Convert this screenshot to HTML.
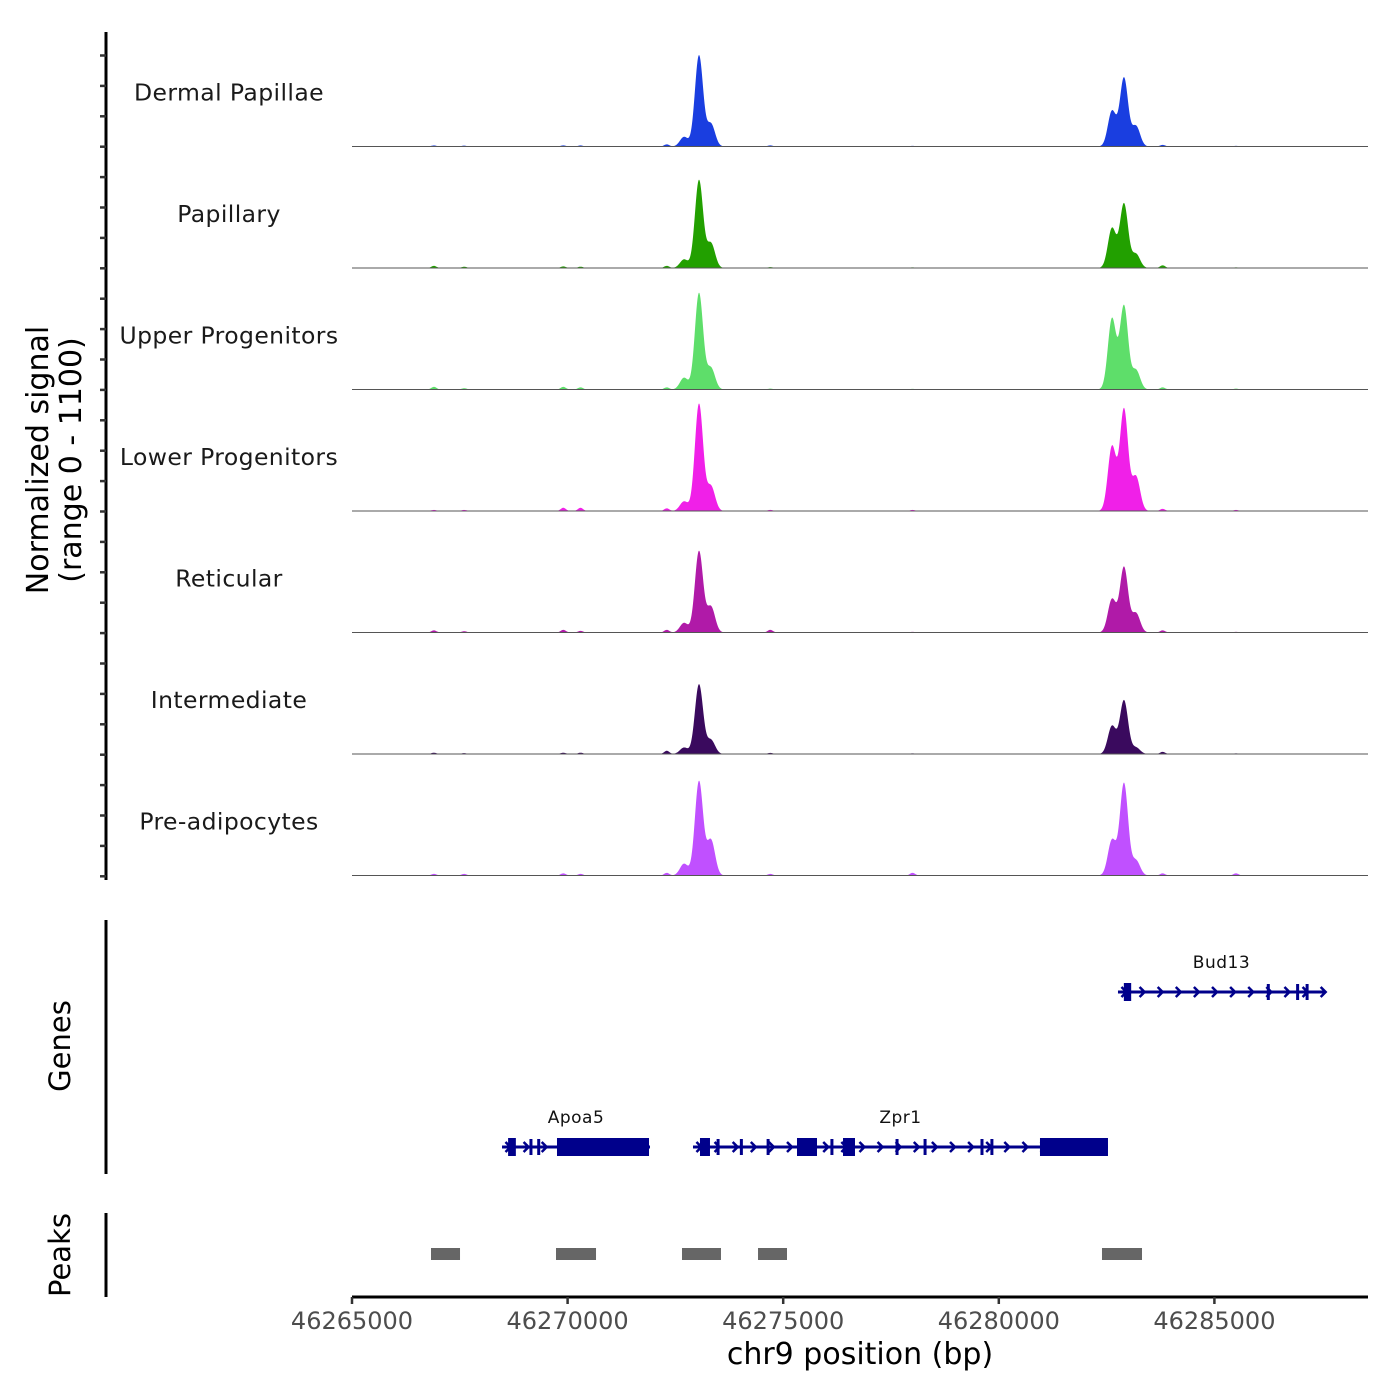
<!DOCTYPE html>
<html><head><meta charset="utf-8">
<style>
html,body{margin:0;padding:0;background:#fff;}
svg{display:block;font-family:"DejaVu Sans","Liberation Sans",sans-serif;}
</style></head>
<body>
<svg id="chart" width="1400" height="1400" viewBox="0 0 1400 1400"></svg>
<script>
const trackNames = ["Dermal Papillae","Papillary","Upper Progenitors","Lower Progenitors","Reticular","Intermediate","Pre-adipocytes"];
const trackColors = ["#1a3ee0","#22a000","#5ede6a","#f020e8","#b01aa8","#3a0a5e","#c050ff"];
const peakPositions = [46272700, 46273047, 46273325, 46282625, 46282903, 46283182];
const peakValues = [
  [90, 850, 210, 330, 640, 190],
  [80, 820, 230, 370, 600, 130],
  [110, 900, 200, 660, 780, 180],
  [90, 1000, 230, 600, 950, 320],
  [90, 760, 240, 310, 610, 180],
  [60, 650, 130, 260, 500, 60],
  [110, 880, 330, 330, 860, 140]
];
const bumpPositions = [46266900, 46267600, 46269900, 46270300, 46272300, 46274700, 46278000, 46283800, 46285500];
const bumpValues = [
  [10, 8, 10, 10, 20, 10, 6, 15, 6],
  [20, 12, 15, 12, 20, 8, 6, 25, 6],
  [25, 12, 25, 20, 20, 8, 6, 20, 8],
  [10, 10, 30, 30, 25, 10, 10, 20, 10],
  [20, 12, 25, 15, 25, 25, 6, 20, 6],
  [12, 8, 12, 12, 30, 10, 6, 20, 6],
  [15, 15, 20, 15, 25, 15, 25, 20, 20]
];
const xTicks = [46265000, 46270000, 46275000, 46280000, 46285000];
const genes = [
  {name:"Apoa5", start:46268479, end:46271911, row:1,
   blocks:[[46269754,46271888],[46268620,46268800]],
   exons:[46269150,46269330]},
  {name:"Zpr1", start:46272908, end:46282532, row:1,
   blocks:[[46280955,46282532],[46275320,46275784],[46276387,46276665],[46273070,46273302]],
   exons:[46273490,46274030,46274650,46276130,46277640,46278290,46279610,46279840]},
  {name:"Bud13", start:46282764, end:46287565, row:0,
   blocks:[[46282900,46283070]],
   exons:[46286250,46286930,46287150]}
];
const peakStarts = [46266832, 46269731, 46272653, 46274416, 46282393];
const peakEnds = [46267505, 46270659, 46273557, 46275088, 46283321];

const NS="http://www.w3.org/2000/svg";
const svg=document.getElementById("chart");
const X0=46265000, PX0=352, K=0.04312, XR=1368;
function xs(bp){return PX0+(bp-X0)*K;}
function mk(tag,attrs,parent){const e=document.createElementNS(NS,tag);for(const k in attrs)e.setAttribute(k,attrs[k]);(parent||svg).appendChild(e);return e;}

const TH=121.5, TOP=25;
function ys(v,i){const base=TOP+(i+1)*TH;return base - v/1100*118;}

let ax=mk("line",{x1:106,y1:32,x2:106,y2:880,stroke:"#000","stroke-width":3});


for(let y=55.5;y<=880;y+=30.4){
  let t=mk("line",{x1:100,y1:y,x2:106,y2:y,stroke:"#333","stroke-width":2.5});
  
  
}
let yt=mk("text",{x:0,y:0,"font-size":30,"text-anchor":"middle",transform:"translate(52,460) rotate(-90)"});


let ts1=mk("tspan",{x:0,dy:-4},yt);ts1.textContent="Normalized signal";
let ts2=mk("tspan",{x:0,dy:33},yt);ts2.textContent="(range 0 - 1100)";

const SIG=95, BS=60;
trackNames.forEach((nm,i)=>{
  const g=mk("g",{});
  
  
  const base=TOP+(i+1)*TH;
  let d="M"+PX0+","+base;
  for(let px=PX0;px<=XR;px+=0.5){
    const bp=X0+(px-PX0)/K;
    let v=0;
    peakPositions.forEach((p,j)=>{const z=(bp-p)/SIG;v+=peakValues[i][j]*Math.exp(-0.5*z*z);});
    bumpPositions.forEach((p,j)=>{const z=(bp-p)/BS;v+=bumpValues[i][j]*Math.exp(-0.5*z*z);});
    d+=" L"+px.toFixed(1)+","+ys(v,i).toFixed(2);
  }
  d+=" L"+XR+","+base+" Z";
  const a=mk("path",{d:d,fill:trackColors[i],stroke:"none"},g);
  
  
  const bl=mk("line",{x1:PX0,y1:base,x2:XR,y2:base,stroke:"#555","stroke-width":1},g);
  
  
  const lb=mk("text",{x:229,y:base-46,"font-size":23.5,"text-anchor":"middle",fill:"#1a1a1a","letter-spacing":"0.4"},g);
  
  
  lb.textContent=nm;
});

let ga=mk("line",{x1:106,y1:920,x2:106,y2:1174,stroke:"#000","stroke-width":3});


let gt=mk("text",{x:0,y:0,"font-size":29,"text-anchor":"middle",transform:"translate(70,1046) rotate(-90)"});


gt.textContent="Genes";
const GC="#00008b";
genes.forEach(gn=>{
  const y=gn.row===0?992:1147;
  const g=mk("g",{});
  
  
  const l=mk("line",{x1:xs(gn.start),y1:y,x2:xs(gn.end),y2:y,stroke:GC,"stroke-width":3},g);
  
  
  for(let bp=gn.start+150;bp<gn.end;bp+=420){
    const x=xs(bp);
    const c=mk("path",{d:`M${x-3},${y-5} L${x+2},${y} L${x-3},${y+5}`,stroke:GC,"stroke-width":2.5,fill:"none"},g);
    
    
  }
  gn.blocks.forEach(b=>{
    const r=mk("rect",{x:xs(b[0]),y:y-9,width:xs(b[1])-xs(b[0]),height:18,fill:GC},g);
    
    
  });
  gn.exons.forEach(e=>{
    const r=mk("rect",{x:xs(e)-1.5,y:y-8,width:3,height:16,fill:GC},g);
    
    
  });
  const t=mk("text",{x:(xs(gn.start)+xs(gn.end))/2,y:y-24,"font-size":17,"text-anchor":"middle",fill:"#111","letter-spacing":"0.5"},g);
  
  
  t.textContent=gn.name;
});

let pa=mk("line",{x1:106,y1:1213,x2:106,y2:1297,stroke:"#000","stroke-width":3});


let pt=mk("text",{x:0,y:0,"font-size":29,"text-anchor":"middle",transform:"translate(70,1255) rotate(-90)"});


pt.textContent="Peaks";
peakStarts.forEach((s,i)=>{
  const r=mk("rect",{x:xs(s),y:1248,width:xs(peakEnds[i])-xs(s),height:12,fill:"#666"});
  
  
});

let xa=mk("line",{x1:PX0,y1:1297,x2:XR,y2:1297,stroke:"#000","stroke-width":3});


xTicks.forEach(t=>{
  const x=xs(t);
  const tk=mk("line",{x1:x,y1:1297,x2:x,y2:1304,stroke:"#333","stroke-width":2.5});
  
  
  const lb=mk("text",{x:x,y:1329,"font-size":24,"text-anchor":"middle",fill:"#4d4d4d"});
  
  
  lb.textContent=String(t);
});
let xt=mk("text",{x:860,y:1364,"font-size":30,"text-anchor":"middle",fill:"#000"});


xt.textContent="chr9 position (bp)";
</script>
</body></html>
